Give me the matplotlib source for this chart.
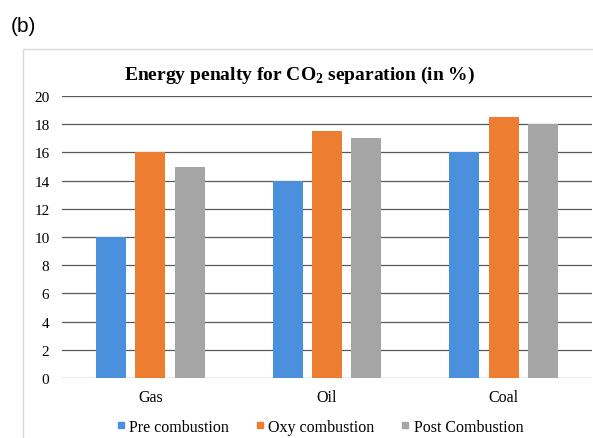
import numpy as np
import matplotlib
matplotlib.use('Agg')
import matplotlib.pyplot as plt
import matplotlib.patches as mpatches
from matplotlib.lines import Line2D

fuels = ['Gas', 'Oil', 'Coal']
pre_comb = [10, 14, 16]
oxy_comb = [16, 17.5, 18.5]
post_comb = [15, 17, 18]
series_names = ['Pre combustion', 'Oxy combustion', 'Post Combustion']
yticks = list(range(0, 21, 2))

colors = ['#4a90dc', '#ed7d31', '#a5a5a5']
serif = 'Liberation Serif'

fig = plt.figure(figsize=(5.93, 4.39), dpi=100)
ax = fig.add_axes([62/593, 1-379/439, (592-62)/593, (379-97)/439])

# light frame round the chart, as in the excel export
frame = mpatches.Rectangle((23/593, -0.05), 1.0, 1-50/439+0.05, transform=fig.transFigure,
                           fill=False, edgecolor='#d9d9d9', linewidth=1.0, zorder=0)
fig.patches.append(frame)

x = np.arange(len(fuels))
w = 0.17
step = 0.222
for i, vals in enumerate([pre_comb, oxy_comb, post_comb]):
    ax.bar(x + (i-1)*step, vals, width=w, color=colors[i], label=series_names[i], zorder=3)

ax.set_xlim(-0.5, 2.5)
ax.set_ylim(0, 20)
ax.set_yticks(yticks)
ax.set_yticklabels([str(t) for t in yticks], fontfamily=serif, fontsize=11)
ax.set_xticks(x)
ax.set_xticklabels(fuels, fontfamily=serif, fontsize=11.5)
ax.tick_params(axis='both', length=0)
ax.tick_params(axis='y', pad=9)
ax.tick_params(axis='x', pad=8)
ax.yaxis.grid(True, color='#595959', linewidth=0.9, zorder=0)
ax.set_axisbelow(True)
for s in ax.spines.values():
    s.set_visible(False)

fig.text(300/593, 1-75/439, r'Energy penalty for CO$_\mathregular{2}$ separation (in %)',
         ha='center', va='center', fontfamily=serif, fontweight='bold', fontsize=14)
fig.text(11/593, 1-26/439, '(b)', ha='left', va='center', fontsize=15, fontfamily='Liberation Sans')

handles = [Line2D([], [], marker='s', linestyle='none', markersize=5, color=c) for c in colors]
leg = fig.legend(handles, series_names, loc='center', bbox_to_anchor=(318/593, 1-428/439), ncol=3,
                 frameon=False, prop={'family': serif, 'size': 11.5}, handletextpad=0.05,
                 columnspacing=1.4, handlelength=1.0)

fig.savefig('out.png', dpi=100)
